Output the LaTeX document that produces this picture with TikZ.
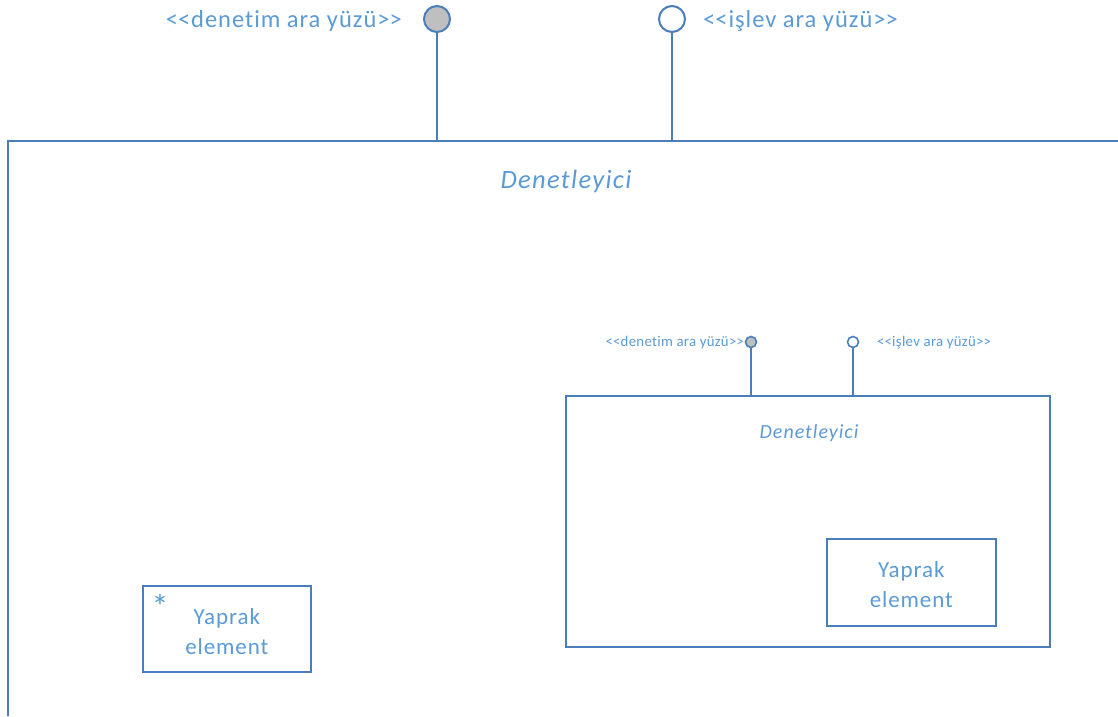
\documentclass[tikz,border=0pt]{standalone}
\usepackage{fontspec}
\setmainfont{Carlito}[Ligatures=NoCommon]
\definecolor{lin}{RGB}{74,126,187}
\definecolor{txt}{RGB}{91,155,213}
\definecolor{gry}{RGB}{191,191,191}
\newcommand{\myll}{<\kern0pt<}
\newcommand{\mygg}{>\kern0pt>}
\begin{document}
\begin{tikzpicture}[x=1pt,y=-1pt,
  frame/.style={draw=lin,line width=1.6pt},
  lolly/.style={draw=lin,line width=2pt},
  box/.style={draw=lin,line width=1.6pt,fill=white,inner sep=0pt},
  lbl/.style={text=txt,inner sep=0pt},
]
\useasboundingbox[fill=white] (0,0) rectangle (1118,716);
% outer frame
\coordinate (ob) at (8,716);
\coordinate (otl) at (8,141);
\coordinate (or) at (1118,141);
\draw[frame] (ob) -- (otl) -- (or);
\node[lbl,font=\fontsize{26.5}{30}\selectfont\itshape] (ot) at (566,181) {\addfontfeature{LetterSpace=5}Denetleyici};
% big lollipops
\coordinate (b1) at (437,141);
\coordinate (b2) at (672,141);
\node[circle,draw=lin,line width=2pt,fill=gry,minimum size=26pt,inner sep=0pt] (c1) at (437,19) {};
\node[circle,draw=lin,line width=2pt,fill=white,minimum size=26pt,inner sep=0pt] (c2) at (672,19) {};
\draw[lolly] (c1.south) -- (b1);
\draw[lolly] (c2.south) -- (b2);
\node[lbl,anchor=east,font=\fontsize{24.5}{28}\selectfont] (l1) at (402,21) {\addfontfeature{LetterSpace=4}\myll denetim ara yüzü\mygg};
\node[lbl,anchor=west,font=\fontsize{24.5}{28}\selectfont] (l2) at (703,21) {\addfontfeature{LetterSpace=4}\myll işlev ara yüzü\mygg};
% inner box
\node[box,minimum width=484pt,minimum height=251pt,anchor=north west] (ib) at (565,395) {};
\node[lbl,font=\fontsize{20}{24}\selectfont\itshape] (it) at (809,433) {\addfontfeature{LetterSpace=5}Denetleyici};
\node[circle,draw=lin,line width=1.6pt,fill=gry,minimum size=11pt,inner sep=0pt] (s1) at (751,342) {};
\node[circle,draw=lin,line width=1.6pt,fill=white,minimum size=11pt,inner sep=0pt] (s2) at (853,342) {};
\draw[lolly] (s1.south) -- (s1.south |- ib.north);
\draw[lolly] (s2.south) -- (s2.south |- ib.north);
\node[lbl,anchor=east,font=\fontsize{14.8}{17}\selectfont] (sl1) at (744,343) {\addfontfeature{LetterSpace=2}\myll denetim ara yüzü\mygg};
\node[lbl,anchor=west,font=\fontsize{14.8}{17}\selectfont] (sl2) at (877,343) {\addfontfeature{LetterSpace=2}\myll işlev ara yüzü\mygg};
% leaf elements
\node[box,minimum width=169pt,minimum height=87pt,anchor=north west] (y1) at (826,538) {};
\node[lbl,align=center,font=\fontsize{23}{30}\selectfont] (y1t) at ([yshift=-2pt]y1.center) {\addfontfeature{LetterSpace=4}Yaprak\\\addfontfeature{LetterSpace=4}element};
\node[box,minimum width=168pt,minimum height=86pt,anchor=north west] (y2) at (142,585) {};
\node[lbl,align=center,font=\fontsize{23}{30}\selectfont] (y2t) at ([yshift=-3pt]y2.center) {\addfontfeature{LetterSpace=4}Yaprak\\\addfontfeature{LetterSpace=4}element};
\node[lbl,font=\fontsize{34}{34}\selectfont] (ast) at (160,606) {*};
\end{tikzpicture}
\end{document}
